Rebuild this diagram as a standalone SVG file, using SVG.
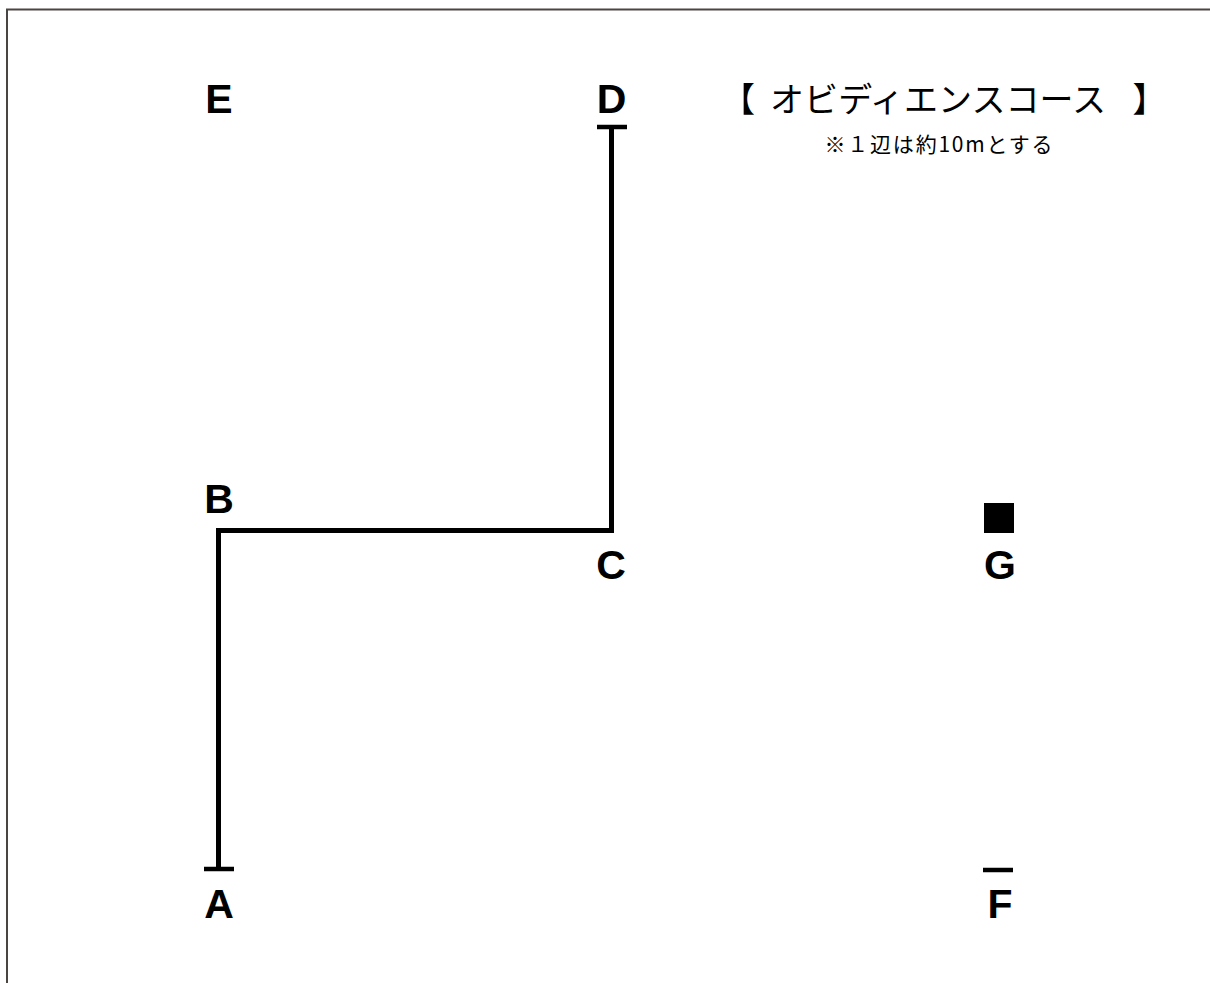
<svg xmlns="http://www.w3.org/2000/svg" width="1210" height="983" viewBox="0 0 1210 983">
<style>
.lbl{font-family:"Liberation Sans",Arial,sans-serif;font-weight:bold;font-size:41px;fill:#000;text-anchor:middle}
.ttl{font-family:"Noto Sans CJK JP",sans-serif;fill:#000}
.course{fill:none;stroke:#000;stroke-width:5;stroke-linejoin:miter}
.bar{stroke:#000;stroke-width:4.5}
</style>
<rect width="1210" height="983" fill="#fff"/>
<path d="M7,983 V9.5 H1210" fill="none" stroke="#4a4542" stroke-width="2"/>
<g id="connectors">
<path class="course" d="M218.5,869 V530.5 H611.5 V127"/>
</g>
<g id="node-A"><line class="bar" x1="204" y1="869" x2="234" y2="869"/><text class="lbl" x="219" y="918">A</text></g>
<g id="node-B"><text class="lbl" x="219" y="513">B</text></g>
<g id="node-C"><text class="lbl" x="611" y="579">C</text></g>
<g id="node-D"><line class="bar" x1="597" y1="127" x2="627" y2="127"/><text class="lbl" x="611.5" y="113">D</text></g>
<g id="node-E"><text class="lbl" x="219" y="113">E</text></g>
<g id="node-F"><line class="bar" x1="983" y1="870" x2="1013" y2="870"/><text class="lbl" x="1000" y="918">F</text></g>
<g id="node-G"><rect x="984" y="503" width="30" height="30" fill="#000"/><text class="lbl" x="1000" y="579">G</text></g>
<g id="title">
<text class="ttl" font-size="34" y="112"><tspan x="721">【 </tspan><tspan x="770" textLength="336" lengthAdjust="spacing">オビディエンスコース</tspan><tspan x="1125"> 】</tspan></text>
<text class="ttl" x="938.5" y="152" font-size="21" text-anchor="middle" textLength="228" lengthAdjust="spacing">※１辺は約10mとする</text>
</g>
</svg>
